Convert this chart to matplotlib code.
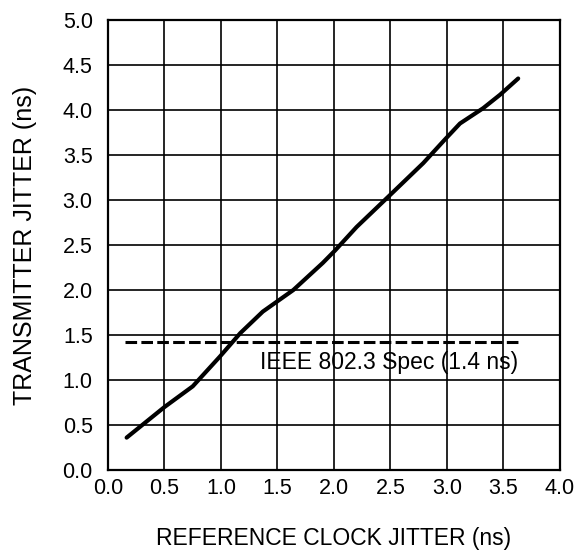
import matplotlib
matplotlib.use("Agg")
import matplotlib.pyplot as plt

plt.rcParams["font.family"] = ["Liberation Sans", "DejaVu Sans"]

# transmitter jitter vs reference clock jitter
ref_jitter = [0.165, 0.50, 0.75, 0.99, 1.17, 1.37, 1.64, 1.90, 2.01, 2.20,
              2.50, 2.79, 2.98, 3.115, 3.32, 3.47, 3.63]
tx_jitter = [0.36, 0.70, 0.93, 1.26, 1.52, 1.76, 2.00, 2.30, 2.44, 2.70,
             3.06, 3.41, 3.67, 3.85, 4.02, 4.17, 4.35]

spec_level = 1.42
spec_span = [0.15, 3.65]
spec_label = "IEEE 802.3 Spec (1.4 ns)"

x_ticks = [0.0, 0.5, 1.0, 1.5, 2.0, 2.5, 3.0, 3.5, 4.0]
y_ticks = [0.0, 0.5, 1.0, 1.5, 2.0, 2.5, 3.0, 3.5, 4.0, 4.5, 5.0]

fig = plt.figure(figsize=(5.76, 5.54), dpi=100)
ax = fig.add_axes([0.1875, 0.1516, 0.7847, 0.8123])

ax.plot(ref_jitter, tx_jitter, color="black", lw=3.0, solid_capstyle="round",
        solid_joinstyle="round")
ax.plot(spec_span, [spec_level, spec_level], color="black", lw=2.2,
        dashes=(3.8, 1.4))
ax.text(1.345, 1.19, spec_label, fontsize=16.5, va="center", ha="left")

ax.set_xlim(0, 4.0)
ax.set_ylim(0, 5.0)
ax.set_xticks(x_ticks)
ax.set_yticks(y_ticks)
ax.set_xticklabels([f"{v:.1f}" for v in x_ticks])
ax.set_yticklabels([f"{v:.1f}" for v in y_ticks])
ax.tick_params(length=0, labelsize=15.5)
ax.tick_params(axis="x", pad=6)
ax.tick_params(axis="y", pad=11)
ax.grid(True, color="black", lw=1.2)
ax.set_axisbelow(True)
for s in ax.spines.values():
    s.set_linewidth(1.6)

ax.set_xlabel("REFERENCE CLOCK JITTER (ns)", fontsize=16.5, labelpad=20)
ax.set_ylabel("TRANSMITTER JITTER (ns)", fontsize=18, labelpad=18)

fig.savefig("out.png", dpi=100)
